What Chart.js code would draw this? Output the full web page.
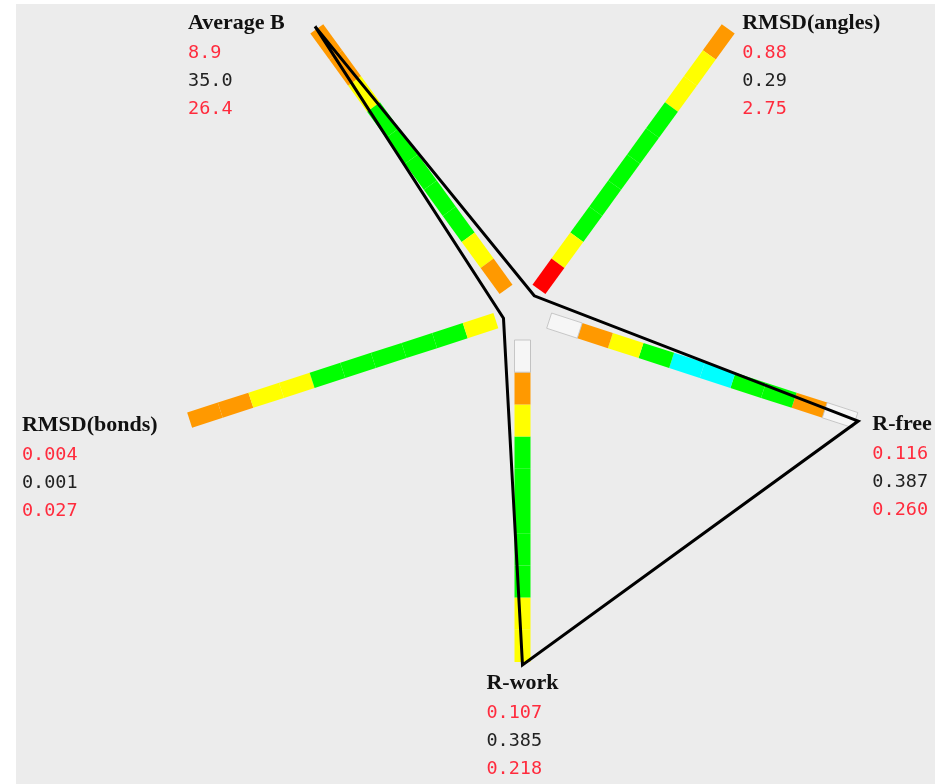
<!DOCTYPE html>
<html>
<head>
<meta charset="utf-8">
<script src="https://cdn.jsdelivr.net/npm/chart.js@4.4.1/dist/chart.umd.min.js"></script>
<style>
  html, body { margin: 0; padding: 0; background: #ffffff; }
  canvas { display: block; }
</style>
</head>
<body>
<canvas id="chart" width="935" height="784"></canvas>
<script>
// Validation statistics, one entry per spoke (clockwise from upper left)
const axisNames    = ['Average B', 'RMSD(angles)', 'R-free', 'R-work', 'RMSD(bonds)'];
const axisLow      = [8.9, 0.88, 0.116, 0.107, 0.004];
const axisValue    = [35.0, 0.29, 0.387, 0.385, 0.001];
const axisHigh     = [26.4, 2.75, 0.260, 0.218, 0.027];
const axisDecimals = [1, 2, 3, 3, 3];

// Histogram bin classes along each spoke, innermost bin first
const binsAverageB = ['O', 'Y', 'G', 'G', 'G', 'G', 'G', 'Y', 'O', 'O'];
const binsAngles   = ['R', 'Y', 'G', 'G', 'G', 'G', 'G', 'Y', 'Y', 'O'];
const binsRfree    = ['W', 'O', 'Y', 'G', 'C', 'C', 'G', 'G', 'O', 'W'];
const binsRwork    = ['W', 'O', 'Y', 'G', 'G', 'G', 'G', 'G', 'Y', 'Y'];
const binsBonds    = ['Y', 'G', 'G', 'G', 'G', 'G', 'Y', 'Y', 'O', 'O'];
const axisBins = [binsAverageB, binsAngles, binsRfree, binsRwork, binsBonds];

const binColor = { R: '#ff0000', O: '#ff9900', Y: '#ffff00', G: '#00ff00', C: '#00ffff', W: '#f6f6f6' };

// Layout of the wheel (data units equal canvas pixels)
const CX = 522.5, CY = 312;
const BAR_IN = 28, BAR_OUT = 350, BAR_W = 16;
const POLY_IN = 20, POLY_OUT = 353;
const START_ANGLE = -126, STEP_ANGLE = 72;

function spokeDir(i) {
  const a = (START_ANGLE + STEP_ANGLE * i) * Math.PI / 180;
  return [Math.cos(a), Math.sin(a)];
}
// point at radius r along spoke i, shifted sideways by off
function spokePoint(i, r, off = 0) {
  const [c, s] = spokeDir(i);
  return { x: CX + r * c - off * s, y: CY + r * s + off * c };
}

const datasets = [];

// polygon joining the clamped values on each spoke
const polyPts = axisValue.map((v, i) => {
  const t = Math.min(1, Math.max(0, (v - axisLow[i]) / (axisHigh[i] - axisLow[i])));
  return spokePoint(i, POLY_IN + t * (POLY_OUT - POLY_IN));
});
polyPts.push(polyPts[0]);
datasets.push({
  data: polyPts, showLine: true, borderColor: '#000000', borderWidth: 3,
  pointRadius: 0, fill: false, tension: 0, borderJoinStyle: 'miter', order: -1
});

// histogram cells
const step = (BAR_OUT - BAR_IN) / 10;
axisBins.forEach((bins, i) => {
  bins.forEach((cls, k) => {
    const r0 = BAR_IN + k * step, r1 = r0 + step;
    datasets.push({
      data: [spokePoint(i, r0), spokePoint(i, r1)], showLine: true,
      borderColor: binColor[cls], borderWidth: BAR_W, borderCapStyle: 'butt',
      pointRadius: 0, fill: false, order: 2
    });
    if (cls === 'W') {
      const h = BAR_W / 2;
      datasets.push({
        data: [spokePoint(i, r0, -h), spokePoint(i, r1, -h), spokePoint(i, r1, h),
               spokePoint(i, r0, h), spokePoint(i, r0, -h)],
        showLine: true, borderColor: '#c2c2c2', borderWidth: 0.9,
        pointRadius: 0, fill: false, order: 1
      });
    }
  });
});

// label placement relative to the outer end of each spoke
const labelSide = ['left', 'right', 'right', 'bottom', 'left'];
const labelDx   = [-32, 14, 17, 0, -32];
const labelDy   = [-6, -6, 4, 21, 5];

const backgroundPlugin = {
  id: 'panel',
  beforeDraw(chart) {
    const ctx = chart.ctx;
    ctx.save();
    ctx.fillStyle = '#ffffff';
    ctx.fillRect(0, 0, chart.width, chart.height);
    ctx.fillStyle = '#ececec';
    ctx.fillRect(16, 4, chart.width - 16, chart.height - 4);
    ctx.restore();
  }
};

const labelPlugin = {
  id: 'spokeLabels',
  afterDatasetsDraw(chart) {
    const ctx = chart.ctx;
    const xs = chart.scales.x, ys = chart.scales.y;
    const titleFont = 'bold 22px "Liberation Serif", "Times New Roman", serif';
    const numFont = '18.5px "DejaVu Sans Mono", monospace';
    ctx.save();
    ctx.textBaseline = 'middle';
    ctx.textAlign = 'left';
    axisNames.forEach((name, i) => {
      const end = spokePoint(i, BAR_OUT);
      const px = xs.getPixelForValue(end.x), py = ys.getPixelForValue(end.y);
      const lines = [
        { text: name, font: titleFont, color: '#111111' },
        { text: axisLow[i].toFixed(axisDecimals[i]), font: numFont, color: '#ff2b3d' },
        { text: axisValue[i].toFixed(axisDecimals[i]), font: numFont, color: '#222222' },
        { text: axisHigh[i].toFixed(axisDecimals[i]), font: numFont, color: '#ff2b3d' }
      ];
      let w = 0;
      lines.forEach(l => { ctx.font = l.font; w = Math.max(w, ctx.measureText(l.text).width); });
      let left;
      if (labelSide[i] === 'left') left = px + labelDx[i] - w;
      else if (labelSide[i] === 'right') left = px + labelDx[i];
      else left = px - w / 2;
      let y = py + labelDy[i];
      lines.forEach((l, j) => {
        ctx.font = l.font;
        ctx.fillStyle = l.color;
        ctx.fillText(l.text, left, y);
        y += (j === 0) ? 30 : 28;
      });
    });
    ctx.restore();
  }
};

new Chart(document.getElementById('chart'), {
  type: 'scatter',
  data: { datasets },
  options: {
    responsive: false,
    animation: false,
    events: [],
    layout: { padding: 0, autoPadding: false },
    plugins: { legend: { display: false }, tooltip: { enabled: false } },
    scales: {
      x: { type: 'linear', display: false, min: 0, max: 935 },
      y: { type: 'linear', display: false, min: 0, max: 784, reverse: true }
    }
  },
  plugins: [backgroundPlugin, labelPlugin]
});
</script>
</body>
</html>
